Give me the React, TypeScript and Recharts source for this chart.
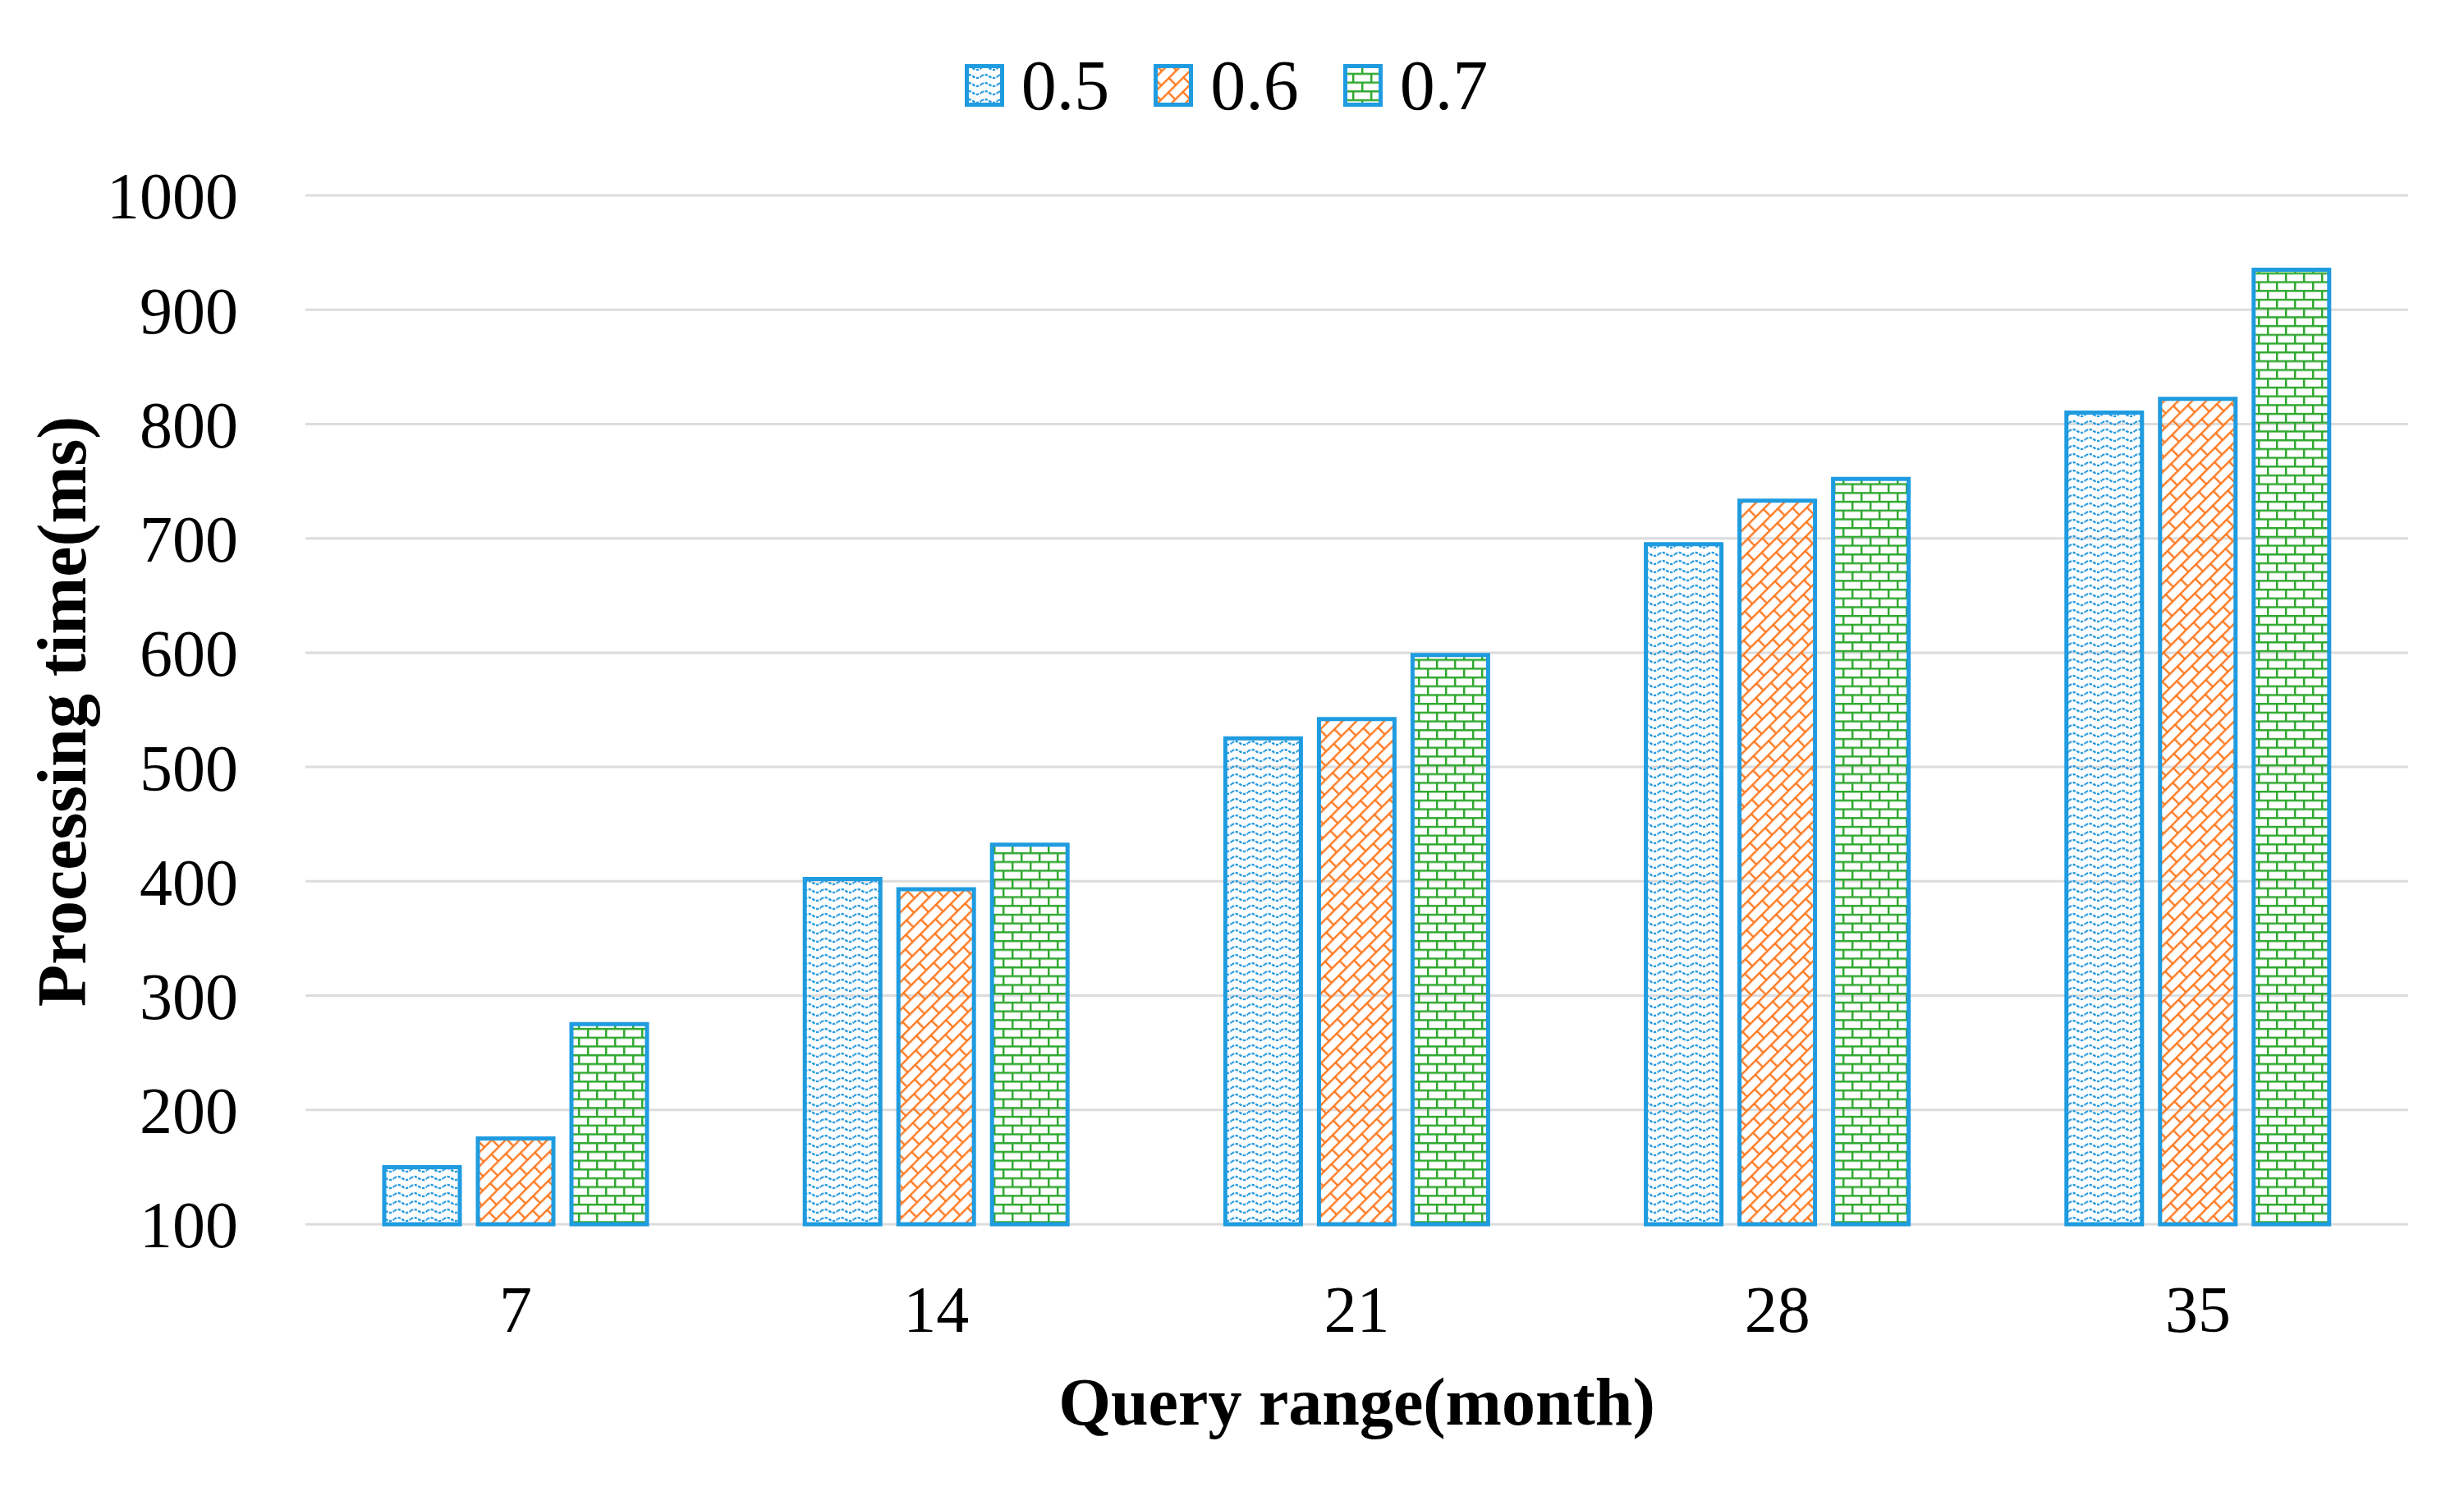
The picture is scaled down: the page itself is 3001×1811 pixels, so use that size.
import React from 'react';
import { Bar, BarChart, CartesianGrid, Label, Legend, XAxis, YAxis } from 'recharts';

const ranges = ['7', '14', '21', '28', '35'];
const series05 = [150, 402, 525, 695, 810];
const series06 = [175, 393, 542, 733, 822];
const series07 = [275, 432, 598, 752, 935];
const yTicks = [100, 200, 300, 400, 500, 600, 700, 800, 900, 1000];

const seriesKeys = ['0.5', '0.6', '0.7'];
const patternIds = ['patWave', 'patDiag', 'patBrick'];

const data = ranges.map((r, i) => ({
  range: r,
  '0.5': series05[i],
  '0.6': series06[i],
  '0.7': series07[i],
}));

const FONT = '"Liberation Serif", "Times New Roman", serif';
const BORDER = '#1f9be0';

const renderLegend = () => (
  <div style={{ display: 'flex', justifyContent: 'center', alignItems: 'center', height: 100, marginLeft: -14 }}>
    {seriesKeys.map((k, i) => (
      <div key={k} style={{ display: 'flex', alignItems: 'center', marginRight: i < 2 ? 54 : 0 }}>
        <svg width={48} height={52} style={{ marginRight: 21 }}>
          <rect x={2.5} y={2.5} width={43} height={47} fill="#fff" />
          <rect x={2.5} y={2.5} width={43} height={47} fill={`url(#${patternIds[i]})`} stroke={BORDER} strokeWidth={5} />
        </svg>
        <span style={{ fontFamily: FONT, fontSize: 86, color: '#000', lineHeight: '100px' }}>{k}</span>
      </div>
    ))}
  </div>
);

const YTitle = (props: any) => {
  const vb = props.viewBox;
  const cx = 75;
  const cy = vb.y + vb.height / 2 + 2;
  return (
    <text
      x={cx}
      y={cy}
      transform={`rotate(-90, ${cx}, ${cy})`}
      textAnchor="middle"
      dominantBaseline="central"
      fontFamily={FONT}
      fontSize={84}
      fontWeight="bold"
      fill="#000"
    >
      Processing time(ms)
    </text>
  );
};

const XTitle = (props: any) => {
  const vb = props.viewBox;
  return (
    <text
      x={vb.x + vb.width / 2}
      y={1735}
      textAnchor="middle"
      fontFamily={FONT}
      fontSize={82}
      fontWeight="bold"
      fill="#000"
    >
      Query range(month)
    </text>
  );
};

export default function App() {
  return (
    <div style={{ width: 3001, height: 1811, background: '#fff' }}>
      <style>{'body{margin:0;}'}</style>
      <BarChart
        width={3001}
        height={1811}
        data={data}
        margin={{ top: 238, right: 68, left: 72, bottom: 120 }}
        barSize={92}
        barGap={22}
      >
        <defs>
          <pattern id="patWave" patternUnits="userSpaceOnUse" width={20} height={10}>
            <path
              d="M0 5 Q5 1 10 5 T20 5"
              fill="none"
              stroke="#2a9be0"
              strokeWidth={2.3}
              strokeDasharray="3.5 1.5"
            />
          </pattern>
          <pattern
            id="patDiag"
            patternUnits="userSpaceOnUse"
            width={26}
            height={24}
            patternTransform="rotate(-45)"
          >
            <line x1={0} y1={1.2} x2={26} y2={1.2} stroke="#ff7a22" strokeWidth={2.4} />
            <line x1={0} y1={13.2} x2={26} y2={13.2} stroke="#ff7a22" strokeWidth={2.4} />
            <line x1={1.2} y1={0} x2={1.2} y2={12} stroke="#ff7a22" strokeWidth={2.4} />
            <line x1={14.2} y1={12} x2={14.2} y2={24} stroke="#ff7a22" strokeWidth={2.4} />
          </pattern>
          <pattern id="patBrick" patternUnits="userSpaceOnUse" width={22} height={21.4}>
            <line x1={0} y1={1.2} x2={22} y2={1.2} stroke="#2fa82f" strokeWidth={2.5} />
            <line x1={0} y1={11.9} x2={22} y2={11.9} stroke="#2fa82f" strokeWidth={2.5} />
            <line x1={1.2} y1={0} x2={1.2} y2={10.7} stroke="#2fa82f" strokeWidth={2.5} />
            <line x1={12.2} y1={10.7} x2={12.2} y2={21.4} stroke="#2fa82f" strokeWidth={2.5} />
          </pattern>
        </defs>
        <CartesianGrid vertical={false} stroke="#dcdcdc" strokeWidth={3} />
        <XAxis
          dataKey="range"
          axisLine={false}
          tickLine={false}
          tickSize={0}
          tickMargin={74}
          height={200}
          tick={{ fontSize: 80, fill: '#000', fontFamily: FONT }}
        >
          <Label content={XTitle} />
        </XAxis>
        <YAxis
          domain={[100, 1000]}
          ticks={yTicks}
          interval={0}
          axisLine={false}
          tickLine={false}
          tickSize={0}
          tickMargin={82}
          width={300}
          tick={{ fontSize: 80, fill: '#000', fontFamily: FONT }}
        >
          <Label content={YTitle} />
        </YAxis>
        <Legend
          verticalAlign="middle"
          align="center"
          layout="horizontal"
          content={renderLegend}
          wrapperStyle={{ top: 54, left: 0, width: 3001, height: 100 }}
        />
        {seriesKeys.map((k, i) => (
          <Bar
            key={k}
            dataKey={k}
            fill={`url(#${patternIds[i]})`}
            stroke={BORDER}
            strokeWidth={5}
            isAnimationActive={false}
          />
        ))}
      </BarChart>
    </div>
  );
}
